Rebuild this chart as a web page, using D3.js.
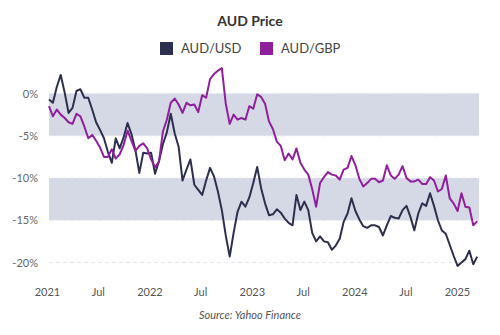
<!DOCTYPE html>
<html>
<head>
<meta charset="utf-8">
<script src="https://cdn.jsdelivr.net/npm/d3@7"></script>
<style>
  body { margin: 0; background: #fff; }
  svg { display: block; font-family: Lato, "Open Sans", sans-serif; }
</style>
</head>
<body>
<svg id="chart" width="500" height="335"></svg>
<script>
// Fortnightly % change of the Australian dollar since early January 2021
const seriesNames = ["AUD/USD", "AUD/GBP"];
const firstDate = "2021-01-08";
const stepDays = 14;

const audUsd = [
  -0.7, -1.1, 0.8, 2.2, 0.1, -2.3, -1.7, 0.3, 0.5, -0.5,
  -0.5, -1.9, -3.4, -4.3, -5.3, -6.9, -8.2, -5.3, -6.5, -5.2,
  -3.5, -4.8, -6.7, -9.4, -7.0, -7.1, -7.0, -9.5, -8.0, -6.0,
  -4.6, -2.4, -4.7, -6.3, -10.3, -9.0, -7.8, -10.8, -11.4, -12.0,
  -10.3, -8.8, -9.8, -11.6, -13.8, -16.8, -19.3, -16.5, -14.0, -12.8,
  -13.4, -12.3, -10.6, -8.7, -11.2, -13.0, -14.4, -14.3, -13.7, -14.1,
  -14.8, -15.3, -15.6, -12.0, -13.8, -12.8, -13.8, -16.5, -17.5, -16.9,
  -17.5, -17.6, -18.5, -18.0, -17.2, -15.2, -14.2, -12.4, -13.9, -14.9,
  -15.7, -15.9, -15.6, -15.6, -15.8, -16.8, -15.6, -14.5, -14.7, -14.8,
  -13.8, -13.3, -14.6, -16.2, -14.2, -13.0, -13.3, -11.8, -13.3, -15.0,
  -16.2, -16.6, -17.9, -19.2, -20.4, -20.0, -19.6, -18.6, -20.2, -19.3
];

const audGbp = [
  -1.5, -2.7, -1.9, -2.5, -2.9, -3.4, -3.6, -2.4, -2.7, -3.9,
  -5.3, -4.9, -5.6, -6.4, -7.5, -7.5, -6.6, -7.7, -7.2, -6.1,
  -4.4, -5.6, -6.8, -6.2, -5.9, -6.5, -7.8, -8.7, -8.1, -4.5,
  -3.1, -1.1, -0.6, -1.3, -2.3, -1.1, -1.4, -1.3, -2.2, -0.2,
  -0.5, 1.7, 2.3, 2.7, 3.0, -1.2, -3.6, -2.5, -3.1, -2.9,
  -3.1, -1.5, -1.8, -0.1, -0.4, -1.2, -3.3, -4.2, -5.7, -6.2,
  -7.9, -7.1, -7.8, -6.5, -8.2, -9.0, -9.6, -11.3, -13.4, -10.6,
  -9.9, -9.3, -9.6, -9.7, -10.2, -9.0, -8.8, -7.4, -8.5, -10.1,
  -11.0, -10.6, -10.1, -10.1, -10.5, -10.3, -8.5, -9.7, -10.1, -9.6,
  -8.6, -10.0, -10.4, -10.4, -10.2, -10.7, -10.7, -9.9, -10.3, -11.6,
  -11.3, -9.7, -12.4, -13.0, -13.9, -11.8, -13.4, -13.5, -15.6, -15.1
];

const yTicks = [0, -5, -10, -15, -20];
const shadedBands = [[0, -5], [-10, -15]];
const xTickDates = ["2021-01-01", "2021-07-01", "2022-01-01", "2022-07-01", "2023-01-01",
                    "2023-07-01", "2024-01-01", "2024-07-01", "2025-01-01"];
const xTickLabels = ["2021", "Jul", "2022", "Jul", "2023", "Jul", "2024", "Jul", "2025"];

const colors = { "AUD/USD": "#2d2f4e", "AUD/GBP": "#8f1f9c" };

const svg = d3.select("#chart");
const parse = d3.utcParse("%Y-%m-%d");
const start = parse(firstDate);
const dates = audUsd.map((_, i) => d3.utcDay.offset(start, i * stepDays));

const plotLeft = 49, plotRight = 479;

const x = d3.scaleUtc()
  .domain([parse("2021-01-01"), parse("2025-01-01")])
  .range([47, 457]);
const y = d3.scaleLinear().domain([-20, 0]).range([262.5, 93.5]);

// shaded bands
svg.append("g").selectAll("rect").data(shadedBands).join("rect")
  .attr("x", plotLeft)
  .attr("width", plotRight - plotLeft)
  .attr("y", d => y(d[0]))
  .attr("height", d => y(d[1]) - y(d[0]))
  .attr("fill", "#d5d8e5");

// dashed gridlines
svg.append("g").selectAll("line").data(yTicks).join("line")
  .attr("x1", plotLeft).attr("x2", plotRight)
  .attr("y1", d => y(d)).attr("y2", d => y(d))
  .attr("stroke", "#e6e7ee")
  .attr("stroke-width", 1)
  .attr("stroke-dasharray", "4,3");

// y axis labels
const yAxis = d3.axisLeft(y).tickValues(yTicks).tickFormat(d => d + "%").tickSize(0).tickPadding(0);
const gy = svg.append("g").attr("transform", "translate(38,0)").call(yAxis);
gy.select(".domain").remove();
gy.selectAll("text").attr("fill", "#666").style("font-size", "11px").style("font-family", "Lato, sans-serif");

// x axis labels
const xAxis = d3.axisBottom(x)
  .tickValues(xTickDates.map(parse))
  .tickFormat((d, i) => xTickLabels[i])
  .tickSize(0).tickPadding(0);
const gx = svg.append("g").attr("transform", "translate(0,288)").call(xAxis);
gx.select(".domain").remove();
gx.selectAll("text").attr("fill", "#555").style("font-size", "11px").style("font-family", "Lato, sans-serif");

// lines
const line = d3.line().x((d, i) => x(dates[i])).y(d => y(d)).curve(d3.curveLinear);
const series = [
  { name: "AUD/USD", values: audUsd },
  { name: "AUD/GBP", values: audGbp }
];
svg.append("g").selectAll("path").data(series).join("path")
  .attr("d", d => line(d.values))
  .attr("fill", "none")
  .attr("stroke", d => colors[d.name])
  .attr("stroke-width", 2)
  .attr("stroke-linejoin", "round");

// title
svg.append("text")
  .attr("x", 250).attr("y", 26)
  .attr("text-anchor", "middle")
  .attr("fill", "#333")
  .style("font-size", "14px")
  .style("font-weight", "bold")
  .text("AUD Price");

// legend
const legendItems = [
  { name: seriesNames[0], x: 160 },
  { name: seriesNames[1], x: 260 }
];
const lg = svg.append("g").selectAll("g").data(legendItems).join("g")
  .attr("transform", d => `translate(${d.x},42)`);
lg.append("rect").attr("width", 13).attr("height", 13).attr("fill", d => colors[d.name]);
lg.append("text")
  .attr("x", 21).attr("y", 11)
  .attr("fill", "#444")
  .style("font-size", "13px")
  .text(d => d.name);

// source note
svg.append("text")
  .attr("x", 250).attr("y", 319)
  .attr("text-anchor", "middle")
  .attr("fill", "#555")
  .style("font-size", "11px")
  .style("font-style", "italic")
  .text("Source: Yahoo Finance");
</script>
</body>
</html>
